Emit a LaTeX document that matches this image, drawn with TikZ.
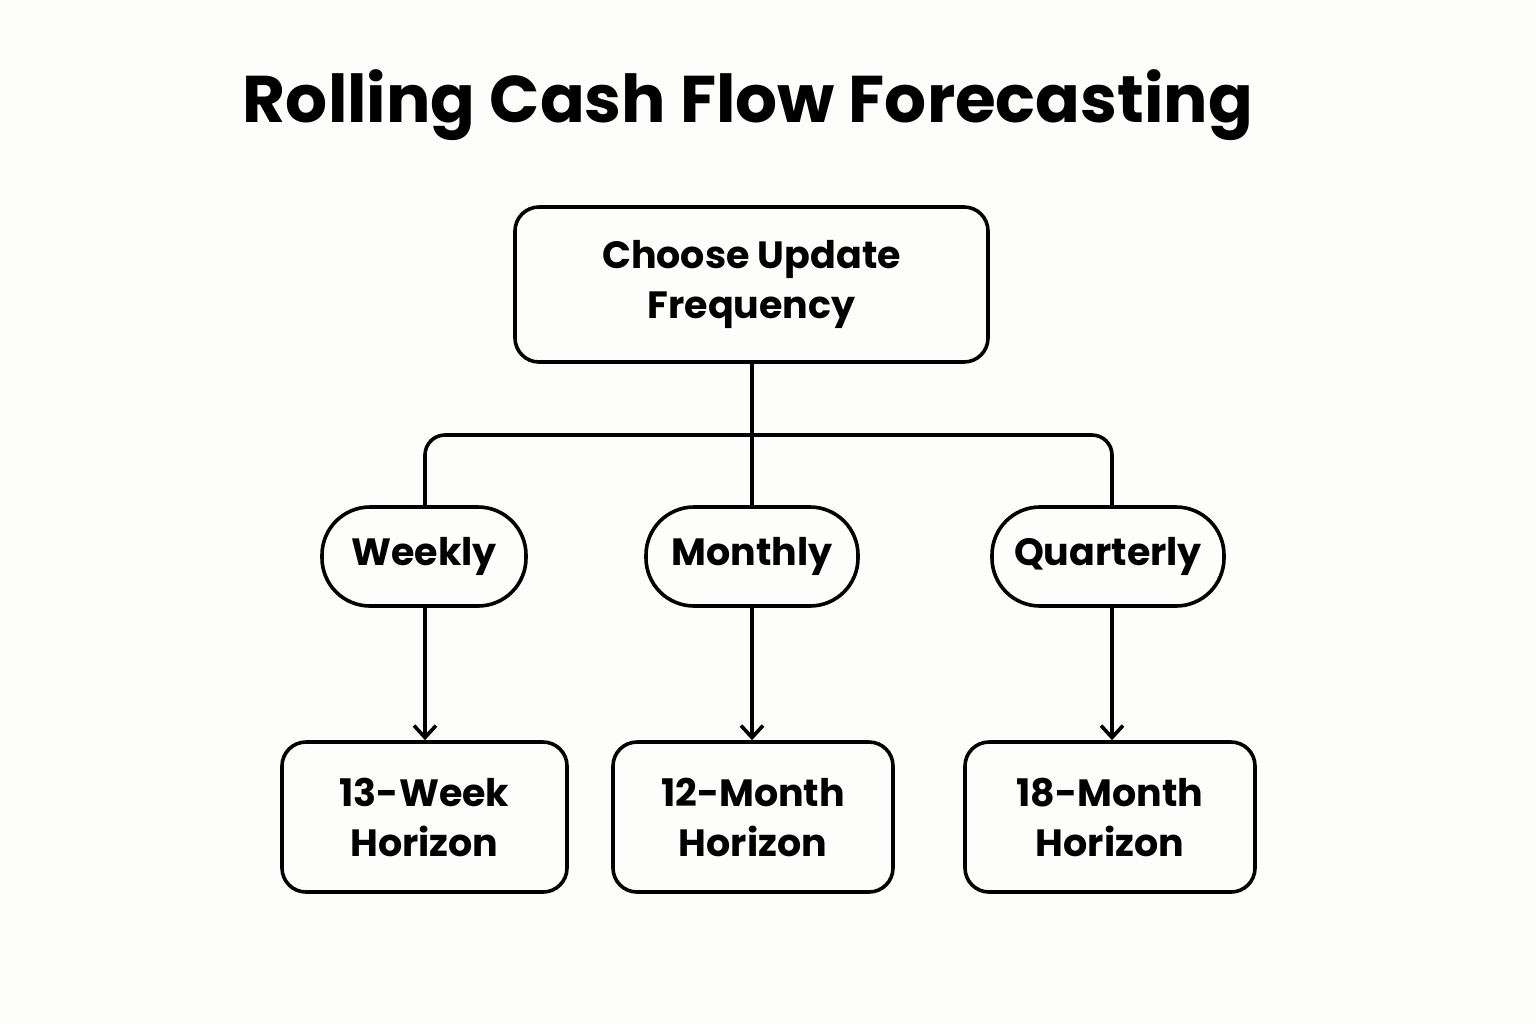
\documentclass[tikz,border=0pt]{standalone}
\usepackage{fontspec}
\setmainfont{Poppins}
\usetikzlibrary{arrows.meta}
\begin{document}
\begin{tikzpicture}[x=0.5pt,y=-0.5pt,
  box/.style={draw=black,line width=1.8pt,rounded corners=12pt,align=center,font=\fontsize{19}{25}\selectfont\bfseries,inner sep=0pt},
  pill/.style={draw=black,line width=1.8pt,rounded corners=24pt,font=\fontsize{19}{24}\selectfont\bfseries,inner sep=0pt},
  conn/.style={line width=1.8pt},
  arr/.style={line width=1.8pt,-{Straight Barb[length=6pt,width=11pt,line width=1.8pt]}}]
\fill[fill={rgb,255:red,253;green,253;blue,251}] (0,0) rectangle (1536,1024);
\useasboundingbox (0,0) rectangle (1536,1024);
\node[font=\fontsize{33}{40}\selectfont\bfseries] (title) at (748,105) {Rolling Cash Flow Forecasting};
\node[box,minimum width=236.5pt,minimum height=77.5pt] (top) at (751.5,284.5) {Choose Update\\Frequency};
\node[pill,minimum width=102pt,minimum height=49.5pt] (w) at (424,556.5) {Weekly};
\node[pill,minimum width=106pt,minimum height=49.5pt] (m) at (752,556.5) {Monthly};
\node[pill,minimum width=116pt,minimum height=49.5pt] (q) at (1108,556.5) {Quarterly};
\node[box,minimum width=142.5pt,minimum height=75pt] (b1) at (424.5,817) {13-Week\\Horizon};
\node[box,minimum width=140pt,minimum height=75pt] (b2) at (753,817) {12-Month\\Horizon};
\node[box,minimum width=145pt,minimum height=75pt] (b3) at (1110,817) {18-Month\\Horizon};
\coordinate (j) at (752,435);
\draw[conn] (top.south -| j) -- (j);
\draw[conn,rounded corners=10pt] (425,506) -- (425,435) -- (1112,435) -- (1112,506);
\draw[conn] (j) -- (752,506);
\draw[arr] (w.south -| 425,0) -- (b1.north -| 425,0);
\draw[arr] (m.south -| 752,0) -- (b2.north -| 752,0);
\draw[arr] (q.south -| 1112,0) -- (b3.north -| 1112,0);
\end{tikzpicture}
\end{document}
